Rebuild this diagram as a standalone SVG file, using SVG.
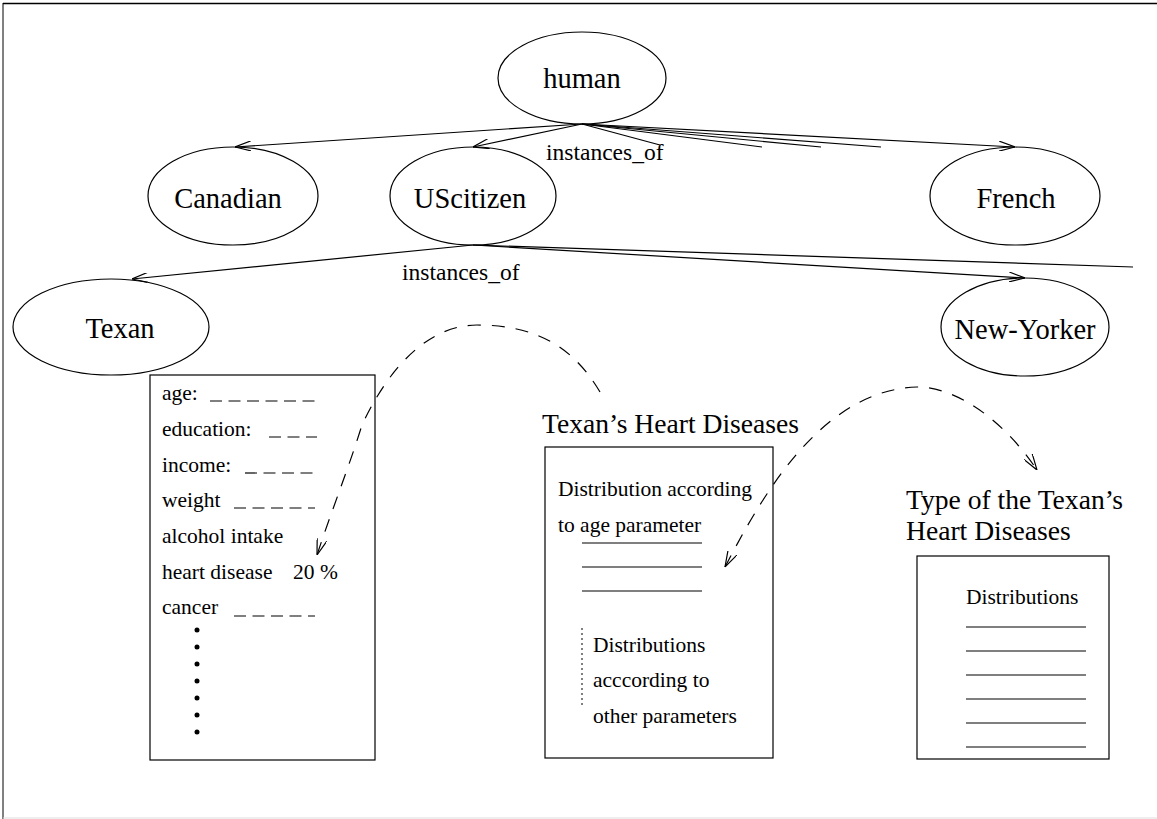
<svg xmlns="http://www.w3.org/2000/svg" width="1157" height="819" viewBox="0 0 1157 819">
  <style>
    .node { fill: none; stroke: #000; stroke-width: 1.2; }
    .lbl { font-family: "Liberation Serif", "Times New Roman", serif; font-size: 28.5px; fill: #000; }
    .lbl-m { text-anchor: middle; }
    .rel { font-family: "Liberation Serif", "Times New Roman", serif; font-size: 23.5px; fill: #000; }
    .sm { font-family: "Liberation Serif", "Times New Roman", serif; font-size: 21.5px; fill: #000; }
    .title { font-family: "Liberation Serif", "Times New Roman", serif; font-size: 27.6px; fill: #000; }
    .edge { fill: none; stroke: #000; stroke-width: 1.2; }
    .arc { fill: none; stroke: #000; stroke-width: 1.2; stroke-dasharray: 13 11; }
    .blank { stroke: #000; stroke-width: 1.2; stroke-dasharray: 12 6.5; }
    .rule { stroke: #000; stroke-width: 1.2; }
  </style>
  <defs>
    <marker id="open" viewBox="0 0 16 10" refX="16" refY="5" markerWidth="16" markerHeight="10" markerUnits="userSpaceOnUse" orient="auto">
      <path d="M0,0 L16,5 L0,10" fill="none" stroke="#000" stroke-width="1.2"/>
    </marker>
    <marker id="open-start" viewBox="0 0 16 10" refX="16" refY="5" markerWidth="16" markerHeight="10" markerUnits="userSpaceOnUse" orient="auto-start-reverse">
      <path d="M0,0 L16,5 L0,10" fill="none" stroke="#000" stroke-width="1.2"/>
    </marker>
  </defs>

  <rect width="1157" height="819" fill="#fff"/>
  <!-- page frame -->
  <line x1="3" y1="3.5" x2="1157" y2="3.5" stroke="#000" stroke-width="1.6"/>
  <line x1="3" y1="3" x2="3" y2="819" stroke="#000" stroke-width="1"/>
  <line x1="3" y1="818" x2="1157" y2="818" stroke="#ddd" stroke-width="1"/>

  <!-- class hierarchy connectors -->
  <g id="connectors">
    <line class="edge" x1="582" y1="124" x2="235" y2="147" marker-end="url(#open)"/>
    <line class="edge" x1="582" y1="124" x2="473" y2="147" marker-end="url(#open)"/>
    <line class="edge" x1="582" y1="124" x2="660" y2="145"/>
    <line class="edge" x1="582" y1="124" x2="762" y2="147"/>
    <line class="edge" x1="582" y1="124" x2="821" y2="147"/>
    <line class="edge" x1="582" y1="124" x2="881" y2="147"/>
    <line class="edge" x1="582" y1="124" x2="1015" y2="147" marker-end="url(#open)"/>
    <line class="edge" x1="473" y1="245" x2="132" y2="279" marker-end="url(#open)"/>
    <line class="edge" x1="473" y1="245" x2="1025" y2="278" marker-end="url(#open)"/>
    <line class="edge" x1="473" y1="245" x2="1133" y2="267"/>
    <text class="rel" x="546" y="160">instances_of</text>
    <text class="rel" x="402" y="280">instances_of</text>
    <!-- dashed links between the frames -->
    <path class="arc" d="M600,392 C575,350 540,325 477,325 C430,325 390,365 362,425 C348,470 330,515 317,555" marker-end="url(#open)"/>
    <path class="arc" d="M725,567 C760,500 820,390 917,387 C958,387 1005,422 1037,470" marker-start="url(#open-start)" marker-end="url(#open)"/>
  </g>

  <g id="human">
    <ellipse class="node" cx="582" cy="78" rx="84" ry="46"/>
    <text class="lbl lbl-m" x="582" y="88">human</text>
  </g>
  <g id="canadian">
    <ellipse class="node" cx="233" cy="196" rx="85" ry="49"/>
    <text class="lbl lbl-m" x="228" y="208">Canadian</text>
  </g>
  <g id="uscitizen">
    <ellipse class="node" cx="473" cy="196" rx="83" ry="49"/>
    <text class="lbl lbl-m" x="470" y="208">UScitizen</text>
  </g>
  <g id="french">
    <ellipse class="node" cx="1015" cy="196" rx="85" ry="49"/>
    <text class="lbl lbl-m" x="1016" y="208">French</text>
  </g>
  <g id="texan">
    <ellipse class="node" cx="111" cy="327" rx="98" ry="48"/>
    <text class="lbl lbl-m" x="120" y="338">Texan</text>
  </g>
  <g id="new-yorker">
    <ellipse class="node" cx="1025" cy="327" rx="84" ry="49"/>
    <text class="lbl lbl-m" x="1025" y="339">New-Yorker</text>
  </g>

  <!-- attribute frame of Texan -->
  <g id="texan-frame">
    <rect class="node" x="150" y="375" width="225" height="385"/>
    <text class="sm" x="162" y="400">age:</text>
    <line class="blank" x1="210" y1="401" x2="315" y2="401"/>
    <text class="sm" x="162" y="436">education:</text>
    <line class="blank" x1="269" y1="437" x2="317" y2="437"/>
    <text class="sm" x="162" y="472">income:</text>
    <line class="blank" x1="245" y1="473" x2="315" y2="473"/>
    <text class="sm" x="162" y="507">weight</text>
    <line class="blank" x1="234" y1="508" x2="315" y2="508"/>
    <text class="sm" x="162" y="543">alcohol intake</text>
    <text class="sm" x="162" y="579">heart disease</text>
    <text class="sm" x="293" y="579">20 %</text>
    <text class="sm" x="162" y="614">cancer</text>
    <line class="blank" x1="234" y1="616" x2="315" y2="616"/>
    <g fill="#000">
      <circle cx="197" cy="630" r="2.5"/>
      <circle cx="197" cy="647" r="2.5"/>
      <circle cx="197" cy="664" r="2.5"/>
      <circle cx="197" cy="681" r="2.5"/>
      <circle cx="197" cy="698" r="2.5"/>
      <circle cx="197" cy="715" r="2.5"/>
      <circle cx="197" cy="732" r="2.5"/>
    </g>
  </g>

  <!-- heart disease frame -->
  <g id="heart-diseases">
    <text class="title" x="542" y="433">Texan’s Heart Diseases</text>
    <rect class="node" x="545" y="447" width="228" height="311"/>
    <text class="sm" x="558" y="496">Distribution according</text>
    <text class="sm" x="558" y="532">to age parameter</text>
    <line class="rule" x1="582" y1="543" x2="702" y2="543"/>
    <line class="rule" x1="582" y1="567" x2="702" y2="567"/>
    <line class="rule" x1="582" y1="591" x2="702" y2="591"/>
    <line x1="582" y1="628" x2="582" y2="708" stroke="#000" stroke-width="1" stroke-dasharray="2 3"/>
    <text class="sm" x="593" y="652">Distributions</text>
    <text class="sm" x="593" y="687">acccording to</text>
    <text class="sm" x="593" y="723">other parameters</text>
  </g>

  <!-- heart disease type frame -->
  <g id="disease-types">
    <text class="title" x="906" y="509">Type of the Texan’s</text>
    <text class="title" x="906" y="540">Heart Diseases</text>
    <rect class="node" x="917" y="556" width="192" height="203"/>
    <text class="sm" x="966" y="604">Distributions</text>
    <line class="rule" x1="966" y1="627" x2="1086" y2="627"/>
    <line class="rule" x1="966" y1="651" x2="1086" y2="651"/>
    <line class="rule" x1="966" y1="675" x2="1086" y2="675"/>
    <line class="rule" x1="966" y1="699" x2="1086" y2="699"/>
    <line class="rule" x1="966" y1="723" x2="1086" y2="723"/>
    <line class="rule" x1="966" y1="747" x2="1086" y2="747"/>
  </g>
</svg>
